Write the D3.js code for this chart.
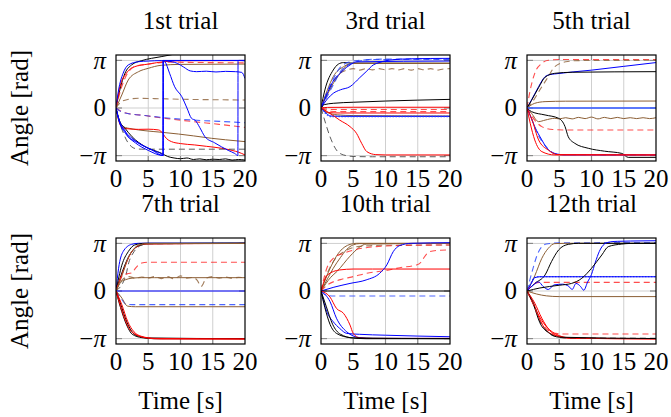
<!DOCTYPE html>
<html>
<head>
<meta charset="utf-8">
<script src="https://cdn.jsdelivr.net/npm/d3@7"></script>
<style>
  html, body { margin: 0; padding: 0; background: #fff; }
  text { font-family: "Liberation Serif", "Times New Roman", serif; fill: #000; }
</style>
</head>
<body>
<svg id="chart" width="671" height="417"></svg>
<script>
// ---- Data -----------------------------------------------------------
const trialTitles = ["1st trial", "3rd trial", "5th trial", "7th trial", "10th trial", "12th trial"];
const xTickValues = [0, 5, 10, 15, 20];
const yTickValues = [-Math.PI, 0, Math.PI];
const yTickLabels = ["\u2212\u03c0", "0", "\u03c0"];
const xLabel = "Time [s]";
const yLabel = "Angle [rad]";

// Each series: line kind, sample times [s], angle [rad]
const trial1 = [
  { kind: "k",   t: [0,0.6,1.4,2.4,4,5.5,7,8.6,10,14,20], v: [0,1.2,2.3,2.84,3.13,3.28,3.39,3.52,3.6,3.65,3.7] },
  { kind: "r",   t: [0,0.6,1.6,2.9,5,7.5,10,20], v: [0,1.4,2.29,2.73,2.9,3.06,3.12,3.13] },
  { kind: "br",  t: [0,0.9,1.9,3.5,5,7,10,20], v: [0,0.86,1.85,2.4,2.62,2.82,2.88,2.9] },
  { kind: "b",   t: [0,0.4,1.1,1.9,3.5,5,7,20], v: [0,1.19,2.29,2.84,3.06,3.1,3.13,3.14] },
  { kind: "r--", t: [0,0.8,1.8,3,5,8,14,20], v: [0,1.3,2.3,2.75,2.9,3.02,3.0,2.98] },
  { kind: "br--",t: [0,0.8,1.9,3.5,6,10,20], v: [0,0.4,0.57,0.64,0.62,0.58,0.53] },
  { kind: "r--", t: [0,0.7,1.4,4.5,8,12,16,20], v: [0,-0.2,-0.31,-0.5,-0.7,-0.9,-1.08,-1.28] },
  { kind: "b--", t: [0,0.7,1.4,4.5,7,12,16,20], v: [0,-0.22,-0.33,-0.5,-0.62,-0.8,-0.88,-0.97] },
  { kind: "br",  t: [0,0.5,1.1,2.5,4.5,7,9.7,12,14.8,17,20], v: [0,-0.8,-1.23,-1.38,-1.5,-1.6,-1.72,-1.84,-2.0,-2.1,-2.22] },
  { kind: "r",   t: [0,0.4,0.9,2,3.5,5,6.6,7.3,7.6,8.6,10,12.2,14,16.4,18,19,20], v: [0,-0.8,-1.28,-1.38,-1.41,-1.4,-1.45,-1.7,-1.9,-2.22,-2.35,-2.44,-2.53,-2.66,-2.8,-2.92,-3.1] },
  { kind: "k--", t: [0,0.5,1,1.6,2.4,3,4,6,10,20], v: [0,-0.9,-1.5,-2.1,-2.55,-2.68,-2.72,-2.72,-2.72,-2.72] },
  { kind: "k",   t: [0,0.5,1.4,2.5,4.5,7.1,8,9,10,11,12,13,14,15,16,17,18,19,20], v: [0,-0.8,-1.34,-1.9,-2.55,-3.0,-3.2,-3.3,-3.35,-3.3,-3.4,-3.36,-3.42,-3.38,-3.4,-3.36,-3.44,-3.4,-3.44] },
  { kind: "b",   t: [0,0.5,1.4,1.9,3,4.5,6,7.1,7.3,7.32,7.6,8.3,9.1,10.2,11,11.7,12.3,13,13.8,15.3,17.4,18.4,18.9,18.92,19.5,20], v: [0,-0.8,-1.5,-1.9,-2.2,-2.55,-2.85,-3.05,-3.14,3.14,3.05,2.3,1.4,0.75,0.0,-0.68,-0.82,-1.3,-1.9,-2.3,-2.8,-3.0,-3.14,3.14,3.13,3.12] },
  { kind: "b",   t: [0,0.5,1.5,2.5,4,5.5,7.3,7.32,8,9.5,10.5,11.5,12.5,14,15.5,17,18.5,19.5,20], v: [0,-0.85,-1.6,-2.0,-2.45,-2.75,-3.14,3.14,3.1,2.95,2.7,2.45,2.4,2.43,2.38,2.42,2.4,2.35,1.95] },
  { kind: "b",   t: [0,0.5,1.5,3,5,7.3,7.32,10,20], v: [0,-0.9,-1.7,-2.3,-2.8,-3.14,3.14,3.14,3.14] }
];

const trial3 = [
  { kind: "k",   t: [0,0.6,1.9,2.7,3.5,5,20], v: [0,1.19,2.51,2.9,3.0,2.96,2.95] },
  { kind: "br",  t: [0,1,1.9,3.5,5,20], v: [0,1.2,2.07,2.73,2.95,2.95] },
  { kind: "br",  t: [0,1,2,3,4,5,20], v: [0,0.9,1.7,2.3,2.8,2.95,2.95] },
  { kind: "br--",t: [0,1,2,3,4,5,6,7,8,9,10,11,12,13,14,15,16,17,18,19,20], v: [0,1.0,1.8,2.3,2.5,2.6,2.5,2.6,2.52,2.6,2.52,2.6,2.52,2.6,2.5,2.6,2.52,2.6,2.5,2.58,2.6] },
  { kind: "b--", t: [0,1,2,3,4.5,6,8,20], v: [0,0.8,1.6,2.4,2.9,3.1,3.22,3.25] },
  { kind: "b--", t: [0,1,2,3,4.5,6,8,20], v: [0,1.1,2.0,2.7,3.05,3.15,3.2,3.2] },
  { kind: "b",   t: [0,1,1.9,3,4.5,6,7,8.1,9,10.7,14,20], v: [0,0.6,0.97,1.2,1.41,2.0,2.4,2.84,3.0,3.17,3.25,3.28] },
  { kind: "b",   t: [0,1,2,3,4,4.5,5.5,20], v: [0,1.0,1.85,2.3,2.7,2.84,3.05,3.1] },
  { kind: "k",   t: [0,0.5,1.9,5,10,15,20], v: [0,0.22,0.31,0.38,0.46,0.52,0.57] },
  { kind: "r",   t: [0,1,5,10,20], v: [0,0.04,0.05,0.05,0.05] },
  { kind: "r--", t: [0,1,3,20], v: [0,-0.1,-0.1,-0.1] },
  { kind: "r--", t: [0,1,3,20], v: [0,-0.2,-0.24,-0.24] },
  { kind: "r",   t: [0,1,3,20], v: [0,-0.3,-0.33,-0.33] },
  { kind: "br",  t: [0,1,2.5,5,20], v: [0,-0.3,-0.45,-0.5,-0.53] },
  { kind: "b",   t: [0,0.8,1.5,3,20], v: [0,-0.35,-0.53,-0.55,-0.55] },
  { kind: "b:",  t: [0,0.8,1.5,3,20], v: [0,-0.4,-0.56,-0.56,-0.56] },
  { kind: "r",   t: [0,1.2,2.9,4.5,5.5,6.3,7.1,8.5,10,20], v: [0,-0.3,-0.8,-1.23,-1.67,-2.33,-2.88,-3.08,-3.1,-3.1] },
  { kind: "k--", t: [0,0.4,1.4,2.4,3.5,5,8,20], v: [0,-0.57,-1.9,-2.78,-3.1,-3.2,-3.22,-3.22] }
];

const trial5 = [
  { kind: "r--", t: [0,0.5,1.2,2.3,3.3,5,20], v: [0,1.19,2.29,2.95,3.15,3.2,3.2] },
  { kind: "br--",t: [0,1,2,3.3,4.3,6,8,20], v: [0,0.5,1.2,2.07,2.73,3.05,3.13,3.15] },
  { kind: "b",   t: [0,0.7,1.8,2.8,3.5,4.3,10,15,20], v: [0,0.53,1.41,2.07,2.2,2.25,2.5,2.75,3.0] },
  { kind: "k",   t: [0,0.7,1.8,2.8,4.3,7,20], v: [0,0.5,1.35,2.03,2.29,2.36,2.4] },
  { kind: "br",  t: [0,1.2,2.8,6,20], v: [0,0.31,0.42,0.45,0.46] },
  { kind: "bw",  t: [0,10,20], v: [0,0,0] },
  { kind: "br",  t: [0,0.7,1.8,2.8,4.3,5,6,7,8,9,10,11,12,13,14,15,16,17,18,19,20], v: [0,-0.35,-0.9,-0.8,-0.68,-0.72,-0.64,-0.72,-0.62,-0.7,-0.6,-0.72,-0.62,-0.7,-0.62,-0.7,-0.64,-0.7,-0.64,-0.7,-0.64] },
  { kind: "r--", t: [0,1.2,2.3,4,6,20], v: [0,-0.8,-1.23,-1.42,-1.45,-1.45] },
  { kind: "k",   t: [0,0.7,2.8,4.9,5.9,6.4,7.4,9.5,12,14.7,15.7,20], v: [0,-0.24,-0.46,-0.68,-1.23,-1.9,-2.33,-2.66,-2.85,-3.0,-3.26,-3.26] },
  { kind: "b",   t: [0,0.6,1.2,2.3,3,4.3,6,20], v: [0,-0.6,-1.23,-2.11,-2.6,-3.0,-3.1,-3.1] },
  { kind: "b--", t: [0,0.7,1.4,2.5,3.5,5,20], v: [0,-0.7,-1.5,-2.3,-2.8,-3.08,-3.1] },
  { kind: "r",   t: [0,0.5,1.2,2.3,4.3,20], v: [0,-1.01,-2.11,-2.88,-3.1,-3.1] },
  { kind: "r",   t: [0,0.8,1.8,3.3,4.8,20], v: [0,-0.8,-2.11,-2.78,-3.08,-3.1] }
];

const trial7 = [
  { kind: "b",   t: [0,0.4,1.1,2.4,3.5,5,20], v: [0,1.5,2.6,3.08,3.15,3.16,3.16] },
  { kind: "k",   t: [0,0.9,1.9,2.9,4.5,20], v: [0,1.7,2.6,3.04,3.15,3.16] },
  { kind: "k",   t: [0,1,2,3,4,5,20], v: [0,1.3,2.3,2.85,3.05,3.12,3.15] },
  { kind: "r",   t: [0,1.2,2.3,3.3,4.5,20], v: [0,1.4,2.5,2.95,3.1,3.14] },
  { kind: "k--", t: [0,1.5,2,2.8,3.8,5,20], v: [0,1.0,1.9,2.6,3.0,3.12,3.14] },
  { kind: "br",  t: [0,1,1.8,2.6,3.6,5,20], v: [0,1.1,2.1,2.7,3.05,3.13,3.14] },
  { kind: "br",  t: [0,0.8,1.5,2.5,4,6,20], v: [0,0.6,0.75,0.85,0.88,0.88,0.88] },
  { kind: "r--", t: [0,1,1.9,2.5,3,4,5,20], v: [0,1.0,1.15,1.2,1.5,1.85,1.9,1.9] },
  { kind: "br--",t: [0,1,2,3,4,5,6,7,8,9,10,11,12,12.6,13.2,14,15,16,17,18,19,20], v: [0,0.75,0.95,0.85,0.92,0.85,0.95,0.82,0.95,0.8,1.0,0.85,0.9,0.7,0.3,0.85,0.95,0.85,0.92,0.85,0.9,0.88] },
  { kind: "b",   t: [0,10,20], v: [0,0,0] },
  { kind: "b--", t: [0,0.8,1.6,2.5,20], v: [0,-0.5,-0.88,-0.9,-0.9] },
  { kind: "br",  t: [0,0.8,1.8,3,20], v: [0,-0.4,-1.0,-1.04,-1.04] },
  { kind: "k",   t: [0,0.5,0.9,1.9,2.5,4,6,20], v: [0,-0.8,-1.37,-2.47,-2.85,-3.08,-3.15,-3.15] },
  { kind: "k",   t: [0,0.6,1.2,2.2,3,5,20], v: [0,-0.7,-1.5,-2.5,-2.9,-3.1,-3.15] },
  { kind: "r",   t: [0,0.7,1.5,2.4,4.5,7,20], v: [0,-1.0,-2.0,-2.69,-3.08,-3.17,-3.17] },
  { kind: "r",   t: [0,0.9,1.8,2.8,4,6,20], v: [0,-0.9,-2.0,-2.7,-3.0,-3.13,-3.17] }
];

const trial10 = [
  { kind: "br",  t: [0,0.9,2.9,4.5,5.5,20], v: [0,1.0,2.6,3.08,3.15,3.15] },
  { kind: "br",  t: [0,1,1.9,3,4,5,6,20], v: [0,0.8,1.5,2.2,2.75,3.05,3.13,3.15] },
  { kind: "br",  t: [0,1.5,2.5,4.5,6,7,20], v: [0,0.9,1.3,2.3,2.9,3.1,3.15] },
  { kind: "br--",t: [0,1,2,4,6,10,20], v: [0,1.2,2.0,2.7,2.95,3.02,3.04] },
  { kind: "r--", t: [0,0.9,1.9,3.5,7,12,20], v: [0,1.5,2.16,2.49,2.86,3.0,3.04] },
  { kind: "r--", t: [0,1,3,5,7.1,10,12.2,14.8,15.5,15.9,16.4,16.9,18,20], v: [0,0.4,0.75,0.95,1.17,1.35,1.54,1.72,1.9,2.16,2.45,2.6,2.68,2.71] },
  { kind: "r",   t: [0,1,2.9,5,8,20], v: [0,1.06,1.39,1.45,1.45,1.45] },
  { kind: "b",   t: [0,2,4.5,7,9.1,10.2,11.2,12.2,14,20], v: [0,0.25,0.5,0.73,1.17,1.72,2.6,3.0,3.15,3.19] },
  { kind: "k",   t: [0,10,20], v: [0,0,0] },
  { kind: "b--", t: [0,0.9,2,20], v: [0,-0.3,-0.33,-0.33] },
  { kind: "b",   t: [0,0.9,1.9,2.9,4,6,10,20], v: [0,-1.37,-2.03,-2.47,-2.8,-2.86,-2.92,-3.02] },
  { kind: "b",   t: [0,1.4,2.4,4,6,8,20], v: [0,-0.7,-1.8,-2.7,-3.08,-3.13,-3.13] },
  { kind: "r",   t: [0,1.4,2.4,3.5,4.5,5,6,8,20], v: [0,-0.4,-1.15,-1.48,-2.25,-2.8,-3.1,-3.13,-3.13] },
  { kind: "k",   t: [0,0.6,1.4,2.4,4.5,7,20], v: [0,-1.1,-2.2,-2.8,-3.08,-3.15,-3.15] },
  { kind: "k",   t: [0,0.8,1.8,3,5,20], v: [0,-1.0,-2.2,-2.85,-3.1,-3.15] }
];

const trial12 = [
  { kind: "b--", t: [0,0.8,1.8,3,5,20], v: [0,1.3,2.6,3.1,3.18,3.2] },
  { kind: "br",  t: [0,1.2,2.3,3.3,4.3,6,20], v: [0,1.0,2.16,2.82,3.13,3.15,3.15] },
  { kind: "k",   t: [0,1.2,2.8,3.8,4.9,6.4,8,20], v: [0,0.5,1.06,1.94,2.71,3.08,3.15,3.15] },
  { kind: "b:",  t: [0,0.6,1.2,2,20], v: [0,0.5,0.9,0.95,0.95] },
  { kind: "b",   t: [0,0.6,1.2,2,20], v: [0,0.45,0.88,0.94,0.94] },
  { kind: "r--", t: [0,1.2,2,20], v: [0,0.5,0.57,0.57] },
  { kind: "b",   t: [0,1,1.8,2.5,3.3,4.2,5.5,6.5,7,7.6,8.3,8.8,9.4,10,10.6,11.2,12,13,14,16,20], v: [0,0.4,0.6,0.3,0.1,0.4,0.45,0.3,0.1,0.5,0.3,0.05,0.6,1.1,1.9,2.6,3.1,3.25,3.28,3.3,3.32] },
  { kind: "k",   t: [0,2,5,6.9,8.5,10,11.6,12.6,14.7,16,20], v: [0,0.2,0.38,0.5,0.84,1.5,2.38,2.93,3.1,3.14,3.15] },
  { kind: "br",  t: [0,1.5,3,5,20], v: [0,-0.2,-0.32,-0.37,-0.37] },
  { kind: "r",   t: [0,0.7,1.8,2.8,4.3,7,20], v: [0,-0.6,-1.59,-2.25,-2.8,-3.13,-3.15] },
  { kind: "r",   t: [0,1,2,3,4.5,6,20], v: [0,-0.8,-1.9,-2.6,-2.95,-3.1,-3.15] },
  { kind: "r",   t: [0,1.2,2.3,3.5,5,8,20], v: [0,-0.8,-1.8,-2.6,-3.0,-3.12,-3.17] },
  { kind: "k--", t: [0,1.2,2,3,4,6,20], v: [0,-1.0,-2.0,-2.6,-2.95,-3.1,-3.12] },
  { kind: "k",   t: [0,1,2,3.5,5,20], v: [0,-0.9,-2.1,-2.8,-3.05,-3.14] },
  { kind: "r--", t: [0,1,2,3,4.5,6,20], v: [0,-0.9,-1.9,-2.5,-2.8,-2.84,-2.84] }
];

const trials = [trial1, trial3, trial5, trial7, trial10, trial12];

// ---- Line styles ----------------------------------------------------
const lineKinds = {
  "k":    { color: "#000000", dash: null,  width: 1,   opacity: 1 },
  "k--":  { color: "#333333", dash: "6,4", width: 1,   opacity: 0.8 },
  "r":    { color: "#ff0000", dash: null,  width: 1,   opacity: 1 },
  "r--":  { color: "#ff2020", dash: "6,4", width: 1.1, opacity: 0.8 },
  "b":    { color: "#0000ff", dash: null,  width: 1,   opacity: 1 },
  "bw":   { color: "#3a5cff", dash: null,  width: 2.2, opacity: 0.8 },
  "b--":  { color: "#2040ff", dash: "6,4", width: 1.1, opacity: 0.8 },
  "b:":   { color: "#2040ff", dash: "1.5,1.5", width: 1.4, opacity: 0.85 },
  "br":   { color: "#8b5e34", dash: null,  width: 1,   opacity: 1 },
  "br--": { color: "#8b5e34", dash: "6,4", width: 1.1, opacity: 0.8 }
};

// ---- Layout ---------------------------------------------------------
const svg = d3.select("#chart");
const colLeft = [116, 321, 527];
const rowTop = [55, 238];
const panelW = 129, panelH = 106;

const xScale = d3.scaleLinear().domain([0, 20]).range([0, panelW]);
const yScale = d3.scaleLinear().domain([-3.5, 3.5]).range([panelH, 0]);

const line = d3.line()
  .x((d) => xScale(d[0]))
  .y((d) => yScale(d[1]))
  .curve(d3.curveMonotoneX);

trials.forEach((series, i) => {
  const col = i % 3, row = Math.floor(i / 3);
  const g = svg.append("g").attr("transform", `translate(${colLeft[col]},${rowTop[row]})`);

  const clipId = "clip" + i;
  g.append("clipPath").attr("id", clipId)
    .append("rect").attr("width", panelW).attr("height", panelH);

  // grid
  g.append("g").selectAll("line.gx").data(xTickValues.filter((v) => v > 0 && v < 20)).join("line")
    .attr("x1", (d) => xScale(d)).attr("x2", (d) => xScale(d))
    .attr("y1", 0).attr("y2", panelH)
    .attr("stroke", "#cfcfcf").attr("stroke-width", 1);
  g.append("g").selectAll("line.gy").data(yTickValues).join("line")
    .attr("x1", 0).attr("x2", panelW)
    .attr("y1", (d) => yScale(d)).attr("y2", (d) => yScale(d))
    .attr("stroke", "#cfcfcf").attr("stroke-width", 1);

  // inner tick marks
  const tk = g.append("g").attr("stroke", "#8a8a8a").attr("stroke-width", 1.2);
  xTickValues.filter((v) => v > 0 && v < 20).forEach((v) => {
    tk.append("line").attr("x1", xScale(v)).attr("x2", xScale(v)).attr("y1", panelH).attr("y2", panelH - 5);
    tk.append("line").attr("x1", xScale(v)).attr("x2", xScale(v)).attr("y1", 0).attr("y2", 5);
  });
  yTickValues.forEach((v) => {
    tk.append("line").attr("x1", 0).attr("x2", 6).attr("y1", yScale(v)).attr("y2", yScale(v));
    tk.append("line").attr("x1", panelW).attr("x2", panelW - 6).attr("y1", yScale(v)).attr("y2", yScale(v));
  });

  // curves
  const lines = g.append("g").attr("clip-path", `url(#${clipId})`);
  series.forEach((s) => {
    const st = lineKinds[s.kind];
    lines.append("path")
      .datum(s.t.map((t, k) => [t, s.v[k]]))
      .attr("d", line)
      .attr("fill", "none")
      .attr("stroke", st.color)
      .attr("stroke-width", st.width)
      .attr("stroke-opacity", st.opacity)
      .attr("stroke-dasharray", st.dash)
      .attr("stroke-linejoin", "round");
  });

  // frame
  g.append("rect").attr("width", panelW).attr("height", panelH)
    .attr("fill", "none").attr("stroke", "#000").attr("stroke-width", 1.2);

  // x axis tick labels
  g.append("g").selectAll("text").data(xTickValues).join("text")
    .attr("x", (d) => xScale(d)).attr("y", panelH + 26)
    .attr("text-anchor", "middle").attr("font-size", 25)
    .text((d) => d);

  // y axis tick labels (pi set in italic, as in math mode)
  const yt = g.append("g").selectAll("text").data(yTickValues).join("text")
    .attr("x", -10).attr("y", (d) => yScale(d)).attr("dy", "0.33em")
    .attr("text-anchor", "end").attr("font-size", 25);
  yt.each(function (d, k) {
    const label = yTickLabels[k];
    const el = d3.select(this);
    if (label.endsWith("\u03c0")) {
      if (label.length > 1) el.append("tspan").text(label.slice(0, -1));
      el.append("tspan").attr("font-style", "italic").text("\u03c0");
    } else {
      el.text(label);
    }
  });

  // title
  g.append("text").attr("x", panelW / 2).attr("y", -26.5)
    .attr("text-anchor", "middle").attr("font-size", 25)
    .text(trialTitles[i]);

  if (col === 0) {
    g.append("text")
      .attr("transform", `translate(${28 - colLeft[0]},${panelH / 2}) rotate(-90)`)
      .attr("text-anchor", "middle").attr("font-size", 25)
      .text(yLabel);
  }
  if (row === 1) {
    g.append("text").attr("x", panelW / 2).attr("y", panelH + 65)
      .attr("text-anchor", "middle").attr("font-size", 25)
      .text(xLabel);
  }
});
</script>
</body>
</html>
